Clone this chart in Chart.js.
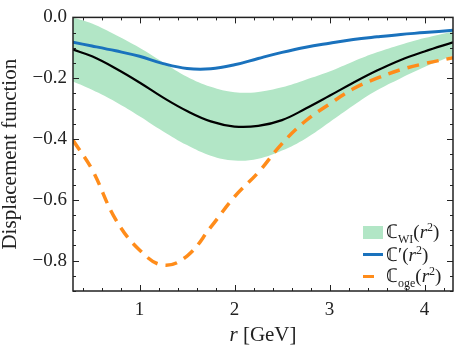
<!DOCTYPE html>
<html>
<head>
<meta charset="utf-8">
<script src="https://cdn.jsdelivr.net/npm/chart.js@4"></script>
<style>
  body { margin: 0; background: #fff; }
  #wrap { position: relative; width: 454px; height: 347px; }
  #legend { position: absolute; left: 363px; top: 221px; font-family: 'Liberation Serif', serif; font-size: 19px; color: #222; }
  #legend .row { height: 22px; display: flex; align-items: center; }
  #legend .sw { width: 20px; margin-right: 3px; }
  #legend sub { font-size: 12px; }
  #legend sup { font-size: 12px; }
  #xtitle { position: absolute; left: 73px; width: 380px; top: 322px; text-align: center; font-family: 'Liberation Serif', serif; font-size: 21px; color: #222; }
</style>
</head>
<body>
<div id="wrap">
  <canvas id="chart" width="454" height="347"></canvas>
  <div id="xtitle"><i>r</i> [GeV]</div>
  <div id="legend">
    <div class="row"><span class="sw" style="height:13px;background:#b2e6c6"></span><span>ℂ<sub>WI</sub>(<i>r</i><sup>2</sup>)</span></div>
    <div class="row"><span class="sw" style="height:3px;background:#1a72bd"></span><span>ℂ′(<i>r</i><sup>2</sup>)</span></div>
    <div class="row"><span class="sw" style="height:3px;background:linear-gradient(90deg,#ff8c1a 0 55%,transparent 55%)"></span><span>ℂ<sub>oge</sub>(<i>r</i><sup>2</sup>)</span></div>
  </div>
</div>
<script>
// data
const rValues = [0.3, 0.5, 0.75, 1, 1.25, 1.5, 1.75, 2, 2.25, 2.5, 2.75, 3, 3.25, 3.5, 3.75, 4, 4.3];
const wiCentral = [-0.106, -0.128, -0.168, -0.214, -0.264, -0.308, -0.342, -0.359, -0.357, -0.338, -0.30, -0.258, -0.215, -0.175, -0.14, -0.112, -0.082];
const wiUpper = [0.0, -0.02, -0.058, -0.1, -0.148, -0.195, -0.228, -0.246, -0.245, -0.23, -0.205, -0.178, -0.145, -0.115, -0.09, -0.068, -0.046];
const wiLower = [-0.211, -0.238, -0.278, -0.325, -0.375, -0.42, -0.455, -0.471, -0.465, -0.438, -0.398, -0.345, -0.29, -0.24, -0.2, -0.163, -0.125];
const cPrime = [-0.082, -0.094, -0.11, -0.128, -0.152, -0.168, -0.169, -0.156, -0.135, -0.115, -0.098, -0.085, -0.073, -0.064, -0.056, -0.05, -0.042];
const cOge = [-0.404, -0.5, -0.665, -0.765, -0.815, -0.785, -0.69, -0.59, -0.51, -0.415, -0.34, -0.285, -0.235, -0.2, -0.172, -0.152, -0.133];

const xTicks = [1, 2, 3, 4];
const yTicks = [0, -0.2, -0.4, -0.6, -0.8];

const pts = arr => arr.map((v, i) => ({ x: rValues[i], y: v }));
const serif = "'Liberation Serif', serif";

// inward tick marks on all four sides
const frameTicks = {
  id: 'frameTicks',
  afterDatasetsDraw(chart) {
    const { ctx, chartArea: a, scales: { x, y } } = chart;
    ctx.save();
    ctx.strokeStyle = '#222';
    ctx.lineWidth = 1;
    ctx.beginPath();
    for (let k = 4; k <= 42; k += 2) {
      const px = Math.round(x.getPixelForValue(k / 10)) + 0.5;
      const len = (k % 10 === 0) ? 6 : 3;
      ctx.moveTo(px, a.bottom); ctx.lineTo(px, a.bottom - len);
      ctx.moveTo(px, a.top); ctx.lineTo(px, a.top + len);
    }
    for (let k = 0; k <= 18; k++) {
      const py = Math.round(y.getPixelForValue(-k * 0.05)) + 0.5;
      const len = (k % 4 === 0) ? 6 : 3;
      ctx.moveTo(a.left, py); ctx.lineTo(a.left + len, py);
      ctx.moveTo(a.right, py); ctx.lineTo(a.right - len, py);
    }
    ctx.stroke();
    ctx.lineWidth = 1.5;
    ctx.strokeRect(a.left, a.top, a.right - a.left, a.bottom - a.top);
    ctx.restore();
  }
};

new Chart(document.getElementById('chart'), {
  type: 'line',
  data: {
    datasets: [
      {
        label: 'upper',
        data: pts(wiUpper),
        borderWidth: 0,
        backgroundColor: '#b2e6c6',
        fill: '+1',
        order: 5
      },
      {
        label: 'lower',
        data: pts(wiLower),
        borderWidth: 0,
        fill: false,
        order: 5
      },
      {
        label: 'central',
        data: pts(wiCentral),
        borderColor: '#000000',
        borderWidth: 2.2,
        fill: false,
        order: 3
      },
      {
        label: 'prime',
        data: pts(cPrime),
        borderColor: '#1a72bd',
        borderWidth: 3,
        fill: false,
        order: 2
      },
      {
        label: 'oge',
        data: pts(cOge),
        borderColor: '#ff8c1a',
        borderWidth: 3.5,
        borderDash: [12, 8],
        fill: false,
        order: 1
      }
    ]
  },
  options: {
    responsive: false,
    animation: false,
    layout: { padding: { top: 7, right: 1, left: 0, bottom: 0 } },
    elements: {
      point: { radius: 0 },
      line: { tension: 0.4 }
    },
    plugins: {
      legend: { display: false },
      tooltip: { enabled: false }
    },
    scales: {
      x: {
        type: 'linear',
        min: 0.3,
        max: 4.3,
        afterBuildTicks: s => { s.ticks = xTicks.map(v => ({ value: v })); },
        afterFit: s => { s.height = 56; },
        grid: { display: false, drawTicks: false },
        border: { display: false },
        ticks: { padding: 8, color: '#222', font: { family: serif, size: 19 } }
      },
      y: {
        min: -0.9,
        max: 0,
        afterBuildTicks: s => { s.ticks = yTicks.map(v => ({ value: v })); },
        afterFit: s => { s.width = 73; },
        grid: { display: false, drawTicks: false },
        border: { display: false },
        ticks: {
          padding: 6,
          color: '#222',
          font: { family: serif, size: 19 },
          callback: v => (v < 0 ? '\u2212' : '') + Math.abs(v).toFixed(1)
        },
        title: {
          display: true,
          text: 'Displacement function',
          color: '#222',
          padding: { top: 0, bottom: 0 },
          font: { family: serif, size: 21, lineHeight: 1 }
        }
      }
    }
  },
  plugins: [frameTicks]
});
</script>
</body>
</html>
